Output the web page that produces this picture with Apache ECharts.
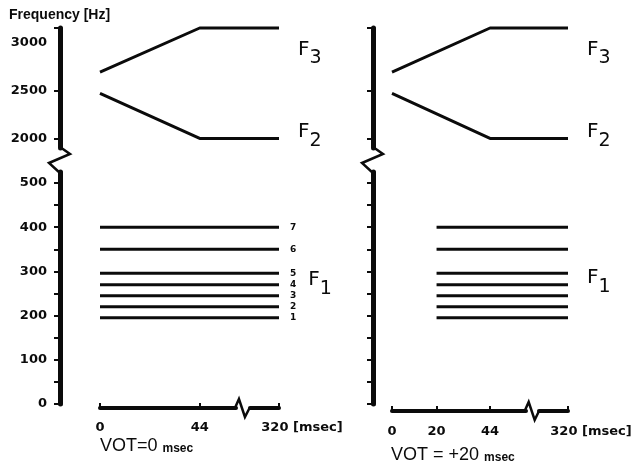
<!DOCTYPE html>
<html>
<head>
<meta charset="utf-8">
<script src="https://cdn.jsdelivr.net/npm/echarts@6/dist/echarts.min.js"></script>
<style>html,body{margin:0;background:#fff}#chart{width:632px;height:470px}</style>
</head>
<body>
<div id="chart"></div>
<script>
// tick values
const timeTicksA = [0, 44, 320];
const timeTicksB = [0, 20, 44, 320];
const hiLabels = [2000, 2500, 3000];
const hiTicks = [2000, 2500, 3150];
const loLabels = [0, 100, 200, 300, 400, 500];
const loTicks = [0, 50, 100, 150, 200, 250, 300, 350, 400, 450, 500];

// formant tracks (ms, Hz)
const f3Time = [0, 44, 320];
const f3Hz = [2690, 3150, 3150];
const f2Time = [0, 44, 320];
const f2Hz = [2470, 2000, 2000];
const f1Names = ['7', '6', '5', '4', '3', '2', '1'];
const f1Hz = [400, 350, 296, 270, 245, 220, 195];
const f1StartA = 0;   // VOT = 0
const f1StartB = 20;  // VOT = +20
const f1End = 320;

const hiMin = 1900, hiMax = 3150;
const loMin = 0, loMax = 525;
const timeBreak = {start: 60, end: 307, gap: 6};

const ink = '#0b0b0b';
const tickFont = {fontFamily: 'DejaVu Sans', fontWeight: 'bold', fontSize: 13, color: ink};
const fRich = {
  F: {fontFamily: 'DejaVu Sans', fontSize: 20, color: ink, padding: [0, 0, 9, 0]},
  s: {fontFamily: 'DejaVu Sans', fontSize: 19, color: ink, padding: [9, 0, 0, 0]},
  n: {fontFamily: 'DejaVu Sans', fontSize: 9, fontWeight: 'bold', color: ink},
  g: {width: 12}
};

const panels = [
  {left: 100, width: 179, yOff: 40, xOff: 4, lblMargin: 13, xTicks: timeTicksA, f1Start: f1StartA, yLabels: true, numbers: true},
  {left: 392, width: 176, yOff: 19, xOff: 7, lblMargin: 14, xTicks: timeTicksB, f1Start: f1StartB, yLabels: false, numbers: false}
];

const grid = [], xAxis = [], yAxis = [], series = [];

function track(xs, ys, idx, label) {
  return {
    type: 'line', xAxisIndex: idx, yAxisIndex: idx,
    data: xs.map((x, i) => [x, ys[i]]),
    symbol: 'none', clip: false, silent: true,
    lineStyle: {color: ink, width: 3},
    endLabel: label || {show: false}
  };
}
function fLabel(text, dy, dist) {
  return {show: true, formatter: text, distance: dist, offset: [0, dy], rich: fRich, color: ink};
}

panels.forEach((p, k) => {
  const up = k * 2, lo = k * 2 + 1;
  grid.push({left: p.left, width: p.width, top: 28, height: 120, outerBoundsMode: 'none', containLabel: false});
  grid.push({left: p.left, width: p.width, top: 172, height: 232, outerBoundsMode: 'none', containLabel: false});

  xAxis.push({gridIndex: up, type: 'value', min: 0, max: 320, show: false,
    breaks: [Object.assign({}, timeBreak)], breakArea: {show: false}});
  xAxis.push({gridIndex: lo, type: 'value', min: 0, max: 320, position: 'bottom', offset: p.xOff,
    breaks: [Object.assign({}, timeBreak)], breakArea: {show: false},
    axisLine: {show: true, onZero: false, lineStyle: {color: ink, width: 4}},
    axisTick: {show: true, inside: true, length: 5, lineStyle: {color: ink, width: 2}, customValues: p.xTicks},
    axisLabel: Object.assign({}, tickFont, {margin: p.lblMargin, customValues: p.xTicks,
      formatter: v => v === 320 ? '{p|}320 [msec]' : String(v), rich: {p: {width: 46}}}),
    splitLine: {show: false}});

  yAxis.push({gridIndex: up, type: 'value', min: hiMin, max: hiMax, position: 'left', offset: p.yOff,
    axisLine: {show: true, onZero: false, lineStyle: {color: ink, width: 5}},
    axisTick: {show: true, length: 6, lineStyle: {color: ink, width: 2}, customValues: hiTicks},
    axisLabel: Object.assign({}, tickFont, {show: p.yLabels, margin: 13, customValues: hiLabels,
      formatter: v => String(v)}),
    splitLine: {show: false}});
  yAxis.push({gridIndex: lo, type: 'value', min: loMin, max: loMax, position: 'left', offset: p.yOff,
    axisLine: {show: true, onZero: false, lineStyle: {color: ink, width: 5}},
    axisTick: {show: true, length: 6, lineStyle: {color: ink, width: 2}, customValues: loTicks},
    axisLabel: Object.assign({}, tickFont, {show: p.yLabels, margin: 13, customValues: loLabels,
      formatter: v => String(v)}),
    splitLine: {show: false}});

  series.push(track(f3Time, f3Hz, up, fLabel('{F|F}{s|3}', 26, 19)));
  series.push(track(f2Time, f2Hz, up, fLabel('{F|F}{s|2}', -2, 19)));
  f1Hz.forEach((hz, i) => {
    let label;
    if (p.numbers) {
      const txt = f1Names[i] === '4' ? '{n|4}{g|}{F|F}{s|1}' : '{n|' + f1Names[i] + '}';
      label = fLabel(txt, 0, 11);
    } else if (f1Names[i] === '4') {
      label = fLabel('{F|F}{s|1}', -2, 19);
    }
    series.push(track([p.f1Start, f1End], [hz, hz], lo, label));
  });
});

const votRich = {
  a: {fontFamily: 'Liberation Sans', fontWeight: 'normal', fontSize: 18, color: ink, verticalAlign: 'bottom'},
  b: {fontFamily: 'Liberation Sans', fontWeight: 'bold', fontSize: 12, color: ink, verticalAlign: 'bottom'}
};

const chart = echarts.init(document.getElementById('chart'), null, {renderer: 'canvas'});
chart.setOption({
  backgroundColor: '#fff',
  animation: false,
  title: [
    {text: 'Frequency [Hz]', left: 9, top: 8, padding: 0,
      textStyle: {fontFamily: 'Liberation Sans', fontWeight: 'bold', fontSize: 14, color: ink}},
    {text: '{a|VOT=0 }{b|msec}', left: 100, top: 437, padding: 0, textStyle: {rich: votRich}},
    {text: '{a|VOT = +20 }{b|msec}', left: 391, top: 446, padding: 0, textStyle: {rich: votRich}}
  ],
  grid, xAxis, yAxis, series
});

// break glyphs on the axis lines
const graphic = [];
panels.forEach((p, k) => {
  const up = k * 2, lo = k * 2 + 1;
  const ax = p.left - p.yOff;
  const y1 = chart.convertToPixel({yAxisIndex: up}, hiMin);
  const y2 = chart.convertToPixel({yAxisIndex: lo}, loMax);
  graphic.push({type: 'polyline', silent: true,
    shape: {points: [[ax, y1 - 1], [ax + 10, y1 + 6], [ax - 11, y1 + 15], [ax, y2 + 1]]},
    style: {stroke: ink, lineWidth: 2.5, fill: null}});
  const xs = chart.convertToPixel({xAxisIndex: lo}, timeBreak.start);
  const xe = chart.convertToPixel({xAxisIndex: lo}, timeBreak.end);
  const ay = chart.convertToPixel({yAxisIndex: lo}, 0) + p.xOff;
  graphic.push({type: 'line', silent: true, shape: {x1: xs, y1: ay, x2: xe, y2: ay},
    style: {stroke: '#fff', lineWidth: 7}});
  graphic.push({type: 'polyline', silent: true,
    shape: {points: [[xs - 1, ay], [xs + 3, ay - 9], [xs + 9, ay + 9], [xe, ay]]},
    style: {stroke: ink, lineWidth: 2.5, fill: null}});
});
chart.setOption({graphic});
</script>
</body>
</html>
